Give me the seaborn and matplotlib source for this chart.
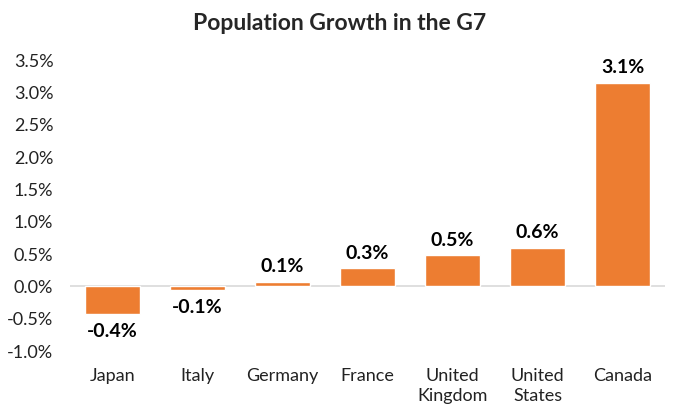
import numpy as np
import pandas as pd
import seaborn as sns
import matplotlib.pyplot as plt
from matplotlib.ticker import FuncFormatter

# Data
countries = ["Japan", "Italy", "Germany", "France", "United\nKingdom", "United\nStates", "Canada"]
growth = [-0.43, -0.06, 0.07, 0.28, 0.48, 0.60, 3.15]
labels = ["-0.4%", "-0.1%", "0.1%", "0.3%", "0.5%", "0.6%", "3.1%"]

df = pd.DataFrame({"country": countries, "growth": growth})

sns.set_theme(style="white")
plt.rcParams['font.family'] = ['Lato', 'DejaVu Sans']

fig = plt.figure(figsize=(6.8, 4.18), dpi=100)
ax = fig.add_axes([0.103, 0.16, 0.875, 0.696])

sns.barplot(data=df, x="country", y="growth", color="#ED7D31", saturation=1,
            width=0.64, ax=ax)

ax.set_ylim(-1.0, 3.5)
ax.set_yticks(np.arange(-1.0, 3.51, 0.5))
ax.yaxis.set_major_formatter(FuncFormatter(lambda v, p: f"{v:.1f}%"))
ax.tick_params(axis="y", labelsize=13, colors="#222222", length=0, pad=12)
ax.tick_params(axis="x", labelsize=13, colors="#222222", length=0, pad=12)
for t in ax.get_xticklabels():
    t.set_linespacing(1.35)
ax.set_xlabel("")
ax.set_ylabel("")
for s in ax.spines.values():
    s.set_visible(False)
ax.axhline(0, color="#d9d9d9", lw=1.2, zorder=0)

# value labels
for i, (v, t) in enumerate(zip(growth, labels)):
    if v >= 0:
        ax.text(i, v + 0.1, t, ha="center", va="bottom", fontsize=14,
                fontweight="bold", color="black")
    else:
        ax.text(i, v - 0.14, t, ha="center", va="top", fontsize=14,
                fontweight="bold", color="black")

fig.suptitle("Population Growth in the G7", y=0.97, fontsize=16.5, fontweight="bold")

fig.savefig("out.png", dpi=100)
